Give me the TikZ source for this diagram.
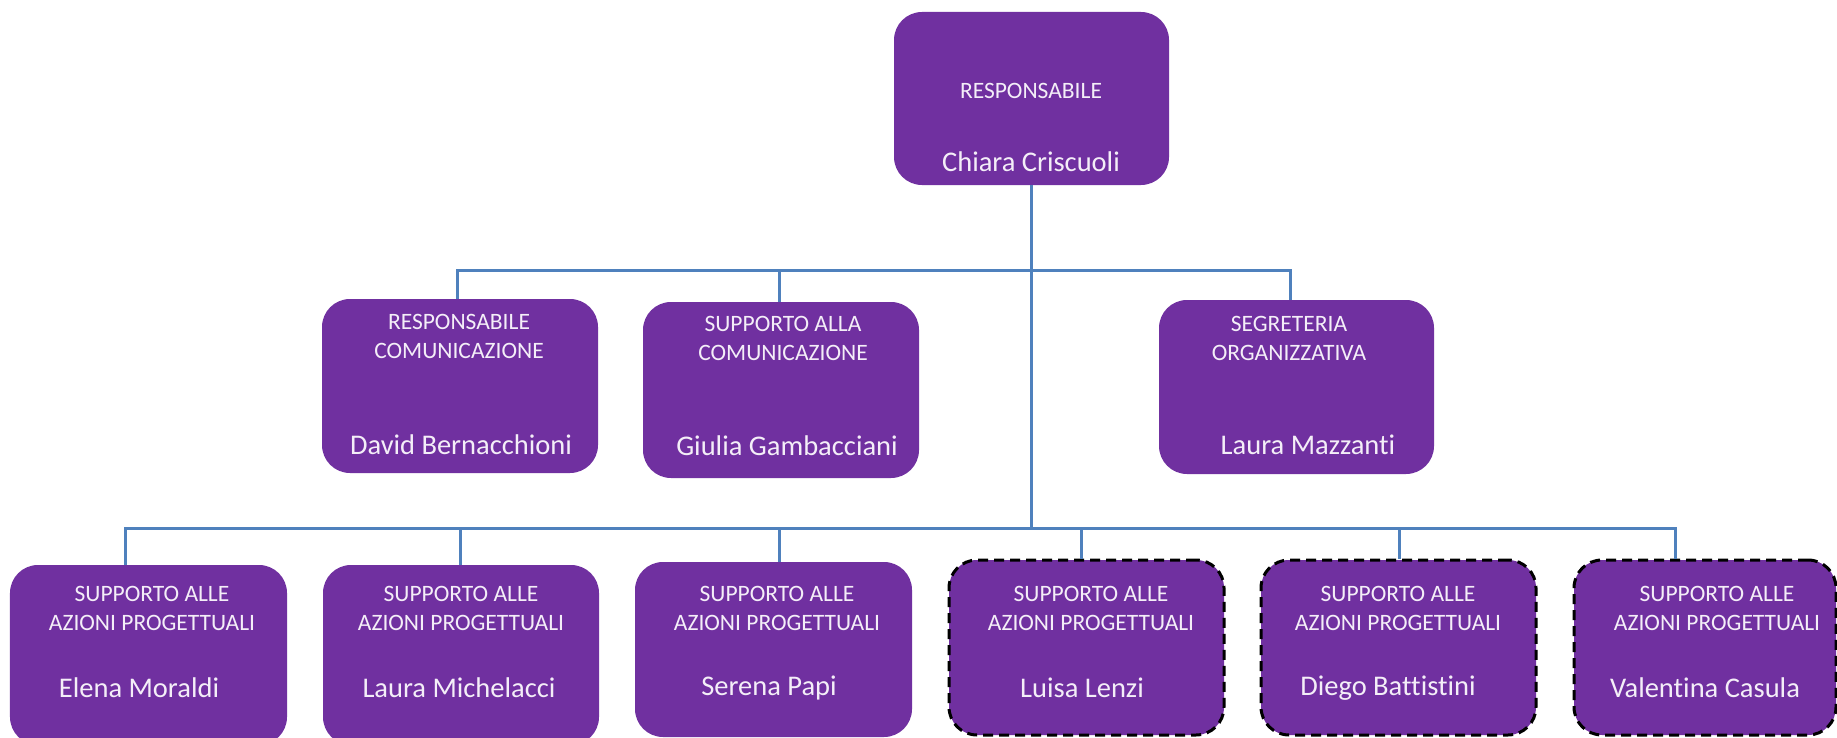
\documentclass[tikz,border=0pt]{standalone}
\usepackage{fontspec}
\setmainfont[Ligatures=NoCommon]{Carlito}
\usetikzlibrary{calc}
\definecolor{boxpurple}{HTML}{7030A0}
\definecolor{connblue}{HTML}{4F81BD}
\definecolor{txtwhite}{HTML}{F4EEF8}
\begin{document}
\begin{tikzpicture}[x=1bp,y=-1bp,
  box/.style={fill=boxpurple, rounded corners=28bp, inner sep=0pt, minimum width=276bp, minimum height=175bp},
  dbox/.style={box, draw=black, line width=3bp, dash pattern=on 10bp off 6bp},
  lbl/.style={text=txtwhite, font=\fontsize{23.5bp}{29bp}\selectfont, align=center, inner sep=0pt},
  nm/.style={text=txtwhite, font=\fontsize{28.5bp}{34bp}\selectfont, inner sep=0pt},
  conn/.style={draw=connblue, line width=3bp}]
\useasboundingbox (0,0) rectangle (1837,738);
\fill[white] (0,0) rectangle (1837,738);
\clip (0,0) rectangle (1837,738);

% boxes
\node[box, minimum width=275bp, minimum height=173bp] (top) at (1031.5,98.5) {};
\node[box, minimum height=174bp] (rc) at (460,386) {};
\node[box, minimum height=176bp] (sc) at (781,390) {};
\node[box, minimum width=275bp, minimum height=174bp] (so) at (1296.5,387) {};
\node[box, minimum width=277bp, minimum height=180bp] (b1) at (148.5,655) {};
\node[box, minimum height=180bp] (b2) at (461,655) {};
\node[box, minimum width=277bp] (b3) at (773.5,649.5) {};
\node[dbox, minimum width=275bp] (b4) at (1086.5,647.5) {};
\node[dbox, minimum width=275bp] (b5) at (1398.5,647.5) {};
\node[dbox, minimum width=262bp] (b6) at (1705,647.5) {};

% texts
\node[lbl] (ttop) at (1031,91) {RESPONSABILE};
\node[nm] (ntop) at (1031,162) {Chiara Criscuoli};
\node[lbl] (trc) at (459,336.5) {RESPONSABILE\\COMUNICAZIONE};
\node[nm] (nrc) at (461,445) {David Bernacchioni};
\node[lbl] (tsc) at (783,338.5) {SUPPORTO ALLA\\COMUNICAZIONE};
\node[nm] (nsc) at (787,446) {Giulia Gambacciani};
\node[lbl] (tso) at (1289,338.5) {SEGRETERIA\\ORGANIZZATIVA};
\node[nm] (nso) at (1308,445) {Laura Mazzanti};
\node[lbl] (tb1) at (152,608.5) {SUPPORTO ALLE\\AZIONI PROGETTUALI};
\node[nm] (nb1) at (139,688) {Elena Moraldi};
\node[lbl] (tb2) at (461,608.5) {SUPPORTO ALLE\\AZIONI PROGETTUALI};
\node[nm] (nb2) at (459,688) {Laura Michelacci};
\node[lbl] (tb3) at (777,608.5) {SUPPORTO ALLE\\AZIONI PROGETTUALI};
\node[nm] (nb3) at (769,688) {Serena Papi};
\node[lbl] (tb4) at (1091,608.5) {SUPPORTO ALLE\\AZIONI PROGETTUALI};
\node[nm] (nb4) at (1082,688) {Luisa Lenzi};
\node[lbl] (tb5) at (1398,608.5) {SUPPORTO ALLE\\AZIONI PROGETTUALI};
\node[nm] (nb5) at (1388,688) {Diego Battistini};
\node[lbl] (tb6) at (1717,608.5) {SUPPORTO ALLE\\AZIONI PROGETTUALI};
\node[nm] (nb6) at (1705,688) {Valentina Casula};

% bus coordinates
\coordinate (busA) at (0,270);
\coordinate (busB) at (0,528);

% connectors
\draw[conn] (top.south) -- (top.south |- busB);
\draw[conn] ([xshift=-3bp]rc.north) -- ([xshift=-3bp]rc.north |- busA) -- ([xshift=-6.5bp]so.north |- busA) -- ([xshift=-6.5bp]so.north);
\draw[conn] ([xshift=-2bp]sc.north) -- ([xshift=-2bp]sc.north |- busA);
\draw[conn] ([xshift=-23.5bp]b1.north) -- ([xshift=-23.5bp]b1.north |- busB) -- ([xshift=-30bp]b6.north |- busB) -- ([xshift=-30bp]b6.north);
\draw[conn] ([xshift=-1bp]b2.north) -- ([xshift=-1bp]b2.north |- busB);
\draw[conn] ([xshift=5.5bp]b3.north) -- ([xshift=5.5bp]b3.north |- busB);
\draw[conn] ([xshift=-5.5bp]b4.north) -- ([xshift=-5.5bp]b4.north |- busB);
\draw[conn] ([xshift=0.5bp]b5.north) -- ([xshift=0.5bp]b5.north |- busB);
\end{tikzpicture}
\end{document}
